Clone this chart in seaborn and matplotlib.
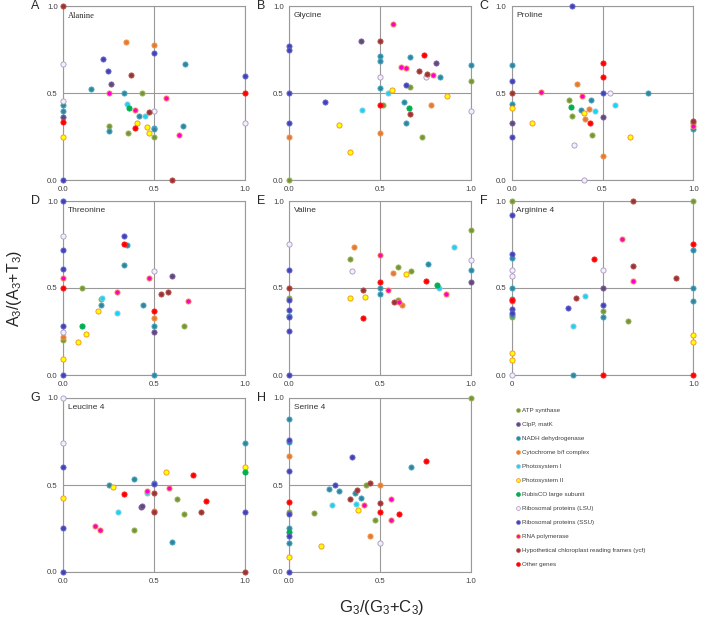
import pandas as pd
import matplotlib
matplotlib.use("Agg")
import matplotlib.pyplot as plt
import seaborn as sns
from matplotlib.lines import Line2D

# gene groups (codes) and legend labels
groups = ["atp", "clp", "ndh", "pet", "psa", "psb", "rbc", "rpl", "rps", "rpo", "ycf", "oth"]
group_labels = ["ATP synthase", "ClpP, matK", "NADH dehydrogenase", "Cytochrome b/f complex",
                "Photosystem I", "Photosystem II", "RubisCO large subunit",
                "Ribosomal proteins (LSU)", "Ribosomal proteins (SSU)", "RNA polymerase",
                "Hypothetical chloroplast reading frames (ycf)", "Other genes"]

panel_letters = ["A", "B", "C", "D", "E", "F", "G", "H"]
panel_names = ["Alanine", "Glycine", "Proline", "Threonine", "Valine", "Arginine 4", "Leucine 4", "Serine 4"]

# --- A: Alanine ---
ala_g = ["ycf", "pet", "pet", "rps", "ndh", "rpl", "rps", "rps", "ycf", "clp", "ndh", "rpo", "ndh", "atp", "rpo",
         "rpl", "ndh", "ndh", "clp", "oth", "psb", "rps", "psa", "rpo", "rbc", "ycf", "rpl", "ndh", "psa", "psb",
         "atp", "ndh", "oth", "psb", "ndh", "ndh", "ndh", "atp", "psb", "atp", "rpo", "ycf", "rps", "oth", "rpl"]
ala_x = [0, .345, .5, .5, .67, 0, .217, .245, .37, .26, .15, .254, .336, .432, .564,
         0, 0, 0, 0, 0, 0, 0, .349, .395, .364, .469, .5, .419, .447, .403,
         .254, .254, .395, .458, .5, .5, .658, .357, .472, .5, .636, .6, 1, 1, 1]
ala_y = [1.0, .793, .78, .73, .668, .666, .695, .63, .608, .553, .522, .501, .501, .501, .472,
         .457, .432, .397, .365, .334, .246, 0, .436, .405, .415, .393, .399, .369, .369, .332,
         .311, .284, .299, .307, .303, .297, .311, .269, .273, .248, .261, 0, .6, .5, .33]

# --- B: Glycine ---
gly_g = ["atp", "rps", "rps", "rps", "rps", "pet", "rps", "psb", "psb", "clp", "ycf", "rpo", "ndh", "ndh", "rpl",
         "ndh", "psa", "psb", "oth", "pet", "psa", "atp", "rpo", "rpo", "ndh", "oth", "ycf", "ycf", "rpl", "rpo",
         "clp", "ndh", "rps", "atp", "ndh", "rbc", "ycf", "ndh", "atp", "pet", "psb", "ndh", "atp", "rpl"]
gly_x = [0, 0, 0, 0, 0, 0, .197, .272, .335, .393, .5, .572, .5, .5, .5,
         .5, .544, .566, .5, .5, .40, .515, .614, .645, .664, .739, .715, .757, .75, .792,
         .805, .831, .645, .662, .632, .658, .664, .645, .728, .781, .869, 1, 1, 1]
gly_y = [0, .772, .749, .5, .332, .25, .449, .319, .163, .802, .802, .898, .714, .687, .595,
         .528, .501, .518, .434, .271, .403, .43, .653, .643, .71, .718, .631, .61, .595, .605,
         .672, .591, .545, .537, .451, .418, .382, .332, .25, .43, .486, .661, .569, .397]

# --- C: Proline ---
pro_g = ["rps", "ndh", "rps", "ycf", "ndh", "psb", "clp", "rps", "psb", "rpo", "pet", "rpo", "atp", "rbc", "ndh",
         "psb", "pet", "ndh", "psa", "atp", "pet", "oth", "oth", "oth", "rps", "rpl", "clp", "psa", "atp", "rpl",
         "pet", "rpl", "psb", "ndh", "ycf", "atp", "rpo", "ndh"]
pro_x = [.333, 0, 0, 0, 0, 0, 0, 0, .11, .163, .36, .388, .315, .326, .379,
         .4, .427, .436, .456, .333, .403, .43, .5, .5, .5, .54, .5, .571, .443, .342,
         .5, .40, .65, .749, 1, 1, 1, 1]
pro_y = [1.0, .662, .57, .5, .441, .417, .332, .25, .332, .509, .551, .482, .463, .42, .403,
         .388, .407, .459, .399, .369, .353, .332, .674, .595, .5, .5, .363, .432, .259, .203,
         .14, 0, .25, .5, .34, .33, .31, .292]

# --- D: Threonine ---
thr_g = ["rps", "rpl", "rps", "rps", "rpo", "oth", "rps", "rpl", "pet", "atp", "psb", "rps", "atp", "rbc", "psb",
         "psb", "psb", "atp", "psa", "ndh", "psa", "rpo", "rps", "oth", "ndh", "ndh", "ndh", "rpo", "rpl", "clp",
         "ycf", "ycf", "rpo", "oth", "pet", "ndh", "clp", "atp", "ndh"]
thr_x = [0, 0, 0, 0, 0, 0, 0, 0, 0, 0, 0, 0, .105, .101, .079,
         .125, .189, .208, .215, .206, .294, .296, .333, .336, .351, .335, .436, .469, .5, .596,
         .539, .574, .689, .5, .5, .5, .5, .667, .5]
thr_y = [1.0, .80, .716, .61, .559, .5, .28, .25, .219, .2, .09, 0, .5, .284, .188,
         .238, .367, .436, .44, .403, .355, .478, .80, .752, .749, .631, .403, .557, .597, .568,
         .468, .476, .426, .369, .33, .282, .25, .284, 0]

# --- E: Valine ---
val_g = ["rpl", "rps", "ycf", "atp", "rps", "rps", "ndh", "rps", "rps", "rps", "atp", "pet", "rpl", "psb", "psb",
         "ycf", "oth", "rpo", "oth", "ndh", "ndh", "rpo", "ycf", "atp", "rpo", "pet", "atp", "pet", "psb", "atp",
         "ndh", "oth", "rbc", "psa", "rpo", "psa", "atp", "rpl", "ndh", "clp"]
val_x = [0, 0, 0, 0, 0, 0, 0, 0, 0, 0, .333, .355, .347, .333, .417,
         .408, .403, .5, .5, .5, .5, .544, .575, .599, .601, .621, .596, .57, .64, .669,
         .765, .75, .813, .824, .864, .906, 1, 1, 1, 1]
val_y = [.754, .603, .5, .443, .432, .374, .34, .332, .253, 0, .668, .735, .599, .443, .451,
         .488, .328, .691, .534, .501, .466, .486, .418, .432, .42, .405, .622, .587, .58, .599,
         .637, .541, .52, .501, .468, .733, .835, .663, .603, .533]

# --- F: Arginine 4 ---
arg_g = ["atp", "rps", "rps", "ndh", "rpl", "rpl", "ndh", "ndh", "oth", "rpo", "rps", "rps", "ndh", "atp", "psb",
         "psb", "rpl", "ndh", "rps", "psa", "ycf", "psa", "oth", "rpl", "clp", "rps", "atp", "ndh", "oth", "rpo",
         "ycf", "ycf", "rpo", "atp", "ycf", "atp", "oth", "ndh", "ndh", "ndh", "psb", "psb", "oth"]
arg_x = [0, 0, 0, 0, 0, 0, 0, 0, 0, 0, 0, 0, 0, 0, 0,
         0, 0, .336, .31, .336, .354, .404, .455, .5, .5, .5, .5, .5, .5, .609,
         .668, .668, .668, .639, .903, 1, 1, 1, 1, 1, 1, 1, 1]
arg_y = [1.0, .921, .695, .67, .605, .57, .5, .436, .43, .426, .378, .355, .342, .334, .127,
         .088, 0, 0, .386, .284, .44, .455, .666, .601, .5, .4, .37, .334, 0, .781,
         1.0, .628, .543, .313, .56, 1.0, .754, .718, .5, .424, .23, .192, 0]

# --- G: Leucine 4 ---
leu_g = ["rpl", "rpl", "rps", "psb", "rps", "rps", "rpo", "rpo", "ndh", "psb", "psa", "oth", "ndh", "atp", "clp",
         "clp", "rpo", "psa", "ndh", "rps", "ycf", "pet", "ycf", "psb", "rpo", "ndh", "atp", "atp", "oth", "ycf",
         "oth", "ndh", "psb", "rbc", "rps", "ycf"]
leu_x = [0, 0, 0, 0, 0, 0, .176, .2, .252, .274, .3, .335, .39, .39, .43,
         .434, .461, .461, .5, .5, .5, .5, .5, .564, .579, .599, .625, .667, .713, .759,
         .787, 1, 1, 1, 1, 1]
leu_y = [1.0, .741, .601, .428, .255, 0, .267, .244, .499, .488, .347, .451, .532, .24, .376,
         .382, .466, .455, .512, .503, .455, .353, .342, .576, .48, .171, .417, .334, .56, .342,
         .407, .743, .605, .574, .344, 0]

# --- H: Serine 4 ---
ser_g = ["atp", "ndh", "rps", "ndh", "pet", "rps", "oth", "atp", "rps", "ndh", "rbc", "rps", "ndh", "psb", "rps",
         "atp", "psb", "ndh", "psa", "rps", "ndh", "rps", "ycf", "ndh", "psa", "ycf", "psb", "ndh", "rpo", "atp",
         "ycf", "pet", "atp", "pet", "ycf", "oth", "rpl", "rpo", "rpo", "oth", "ndh", "oth"]
ser_x = [1, 0, 0, 0, 0, 0, 0, 0, 0, 0, 0, 0, 0, 0, 0,
         .138, .174, .218, .233, .253, .275, .345, .336, .36, .367, .372, .378, .394, .409, .422,
         .446, .442, .47, .5, .5, .5, .5, .56, .558, .602, .668, .752]
ser_y = [1.0, .879, .76, .747, .667, .58, .4, .347, .335, .251, .23, .207, .169, .086, 0,
         .341, .149, .479, .385, .502, .466, .659, .421, .452, .391, .469, .356, .427, .387, .502,
         .511, .205, .299, .502, .398, .345, .165, .42, .301, .335, .602, .638]

panel_data = [(ala_g, ala_x, ala_y), (gly_g, gly_x, gly_y), (pro_g, pro_x, pro_y),
              (thr_g, thr_x, thr_y), (val_g, val_x, val_y), (arg_g, arg_x, arg_y),
              (leu_g, leu_x, leu_y), (ser_g, ser_x, ser_y)]

# face / edge colours per group
face = {"atp": "#77933C", "clp": "#604A7B", "ndh": "#31859C", "pet": "#E07B39",
        "psa": "#19D3F5", "psb": "#FFFF00", "rbc": "#00B050", "rpl": "#F4F0F8",
        "rps": "#4343B5", "rpo": "#FF00CC", "ycf": "#953735", "oth": "#FF0000"}
edge = {"atp": "#9BBB59", "clp": "#8064A2", "ndh": "#4BACC6", "pet": "#F79646",
        "psa": "#93CDDD", "psb": "#F08C28", "rbc": "#00B050", "rpl": "#A896C4",
        "rps": "#6B6BD0", "rpo": "#F79646", "ycf": "#C0504D", "oth": "#FF2020"}

sns.set_style("white")
plt.rcParams["font.family"] = ["Liberation Sans", "DejaVu Sans"]

fig = plt.figure(figsize=(7.01, 6.17), dpi=100)
W, H = 701, 617
col_left = [63.3, 289.3, 511.7]
row_top = [6.3, 201, 398]
ax_w, ax_h = 181.7, 174

for i, (g, x, y) in enumerate(panel_data):
    r, c = divmod(i, 3)
    ax = fig.add_axes([col_left[c] / W, 1 - (row_top[r] + ax_h) / H, ax_w / W, ax_h / H])
    df = pd.DataFrame({"group": g, "x": x, "y": y})
    for key in groups:
        sub = df[df["group"] == key]
        if len(sub) == 0:
            continue
        sns.scatterplot(data=sub, x="x", y="y", ax=ax, color=face[key], edgecolor=edge[key],
                        s=14, linewidth=0.6, legend=False, clip_on=False, zorder=3)
    ax.set_xlim(0, 1)
    ax.set_ylim(0, 1)
    ax.set_xticks([0, 0.5, 1])
    ax.set_yticks([0, 0.5, 1])
    if panel_letters[i] == "F":
        ax.set_xticklabels(["0", "", "1.0"])
    else:
        ax.set_xticklabels(["0.0", "0.5", "1.0"])
    ax.set_yticklabels(["0.0", "0.5", "1.0"])
    ax.grid(True, color="#999999", linewidth=0.8)
    for sp in ax.spines.values():
        sp.set_color("#999999")
        sp.set_linewidth(0.8)
    ax.tick_params(length=0, labelsize=5.6, colors="#404040", pad=4)
    ax.set_xlabel("")
    ax.set_ylabel("")
    ax.text(-0.155, 1.0, panel_letters[i], transform=ax.transAxes, fontsize=9,
            ha="center", va="center")
    if i == 0:
        ax.text(0.026, 0.945, panel_names[i], transform=ax.transAxes, fontsize=6,
                family="Liberation Serif", va="center")
    else:
        ax.text(0.026, 0.945, panel_names[i], transform=ax.transAxes, fontsize=6,
                color="#333333", va="center")

fig.text(0.021, 0.533, r"$\mathregular{A_3/(A_3{+}T_3)}$", rotation=90, fontsize=11.5,
         ha="center", va="center")
fig.text(0.545, 0.016, r"$\mathregular{G_3/(G_3{+}C_3)}$", fontsize=12,
         ha="center", va="center")

handles = [Line2D([], [], linestyle="", marker="o", markersize=2.8,
                  markerfacecolor=face[k], markeredgecolor=edge[k], markeredgewidth=0.5)
           for k in groups]
fig.legend(handles, group_labels, loc="upper left", bbox_to_anchor=(0.735, 0.339),
           frameon=False, fontsize=4.5, handlelength=0.8, handletextpad=0.3,
           labelspacing=1.38, borderpad=0, borderaxespad=0, labelcolor="#404040")

fig.savefig("out.png", dpi=100)
